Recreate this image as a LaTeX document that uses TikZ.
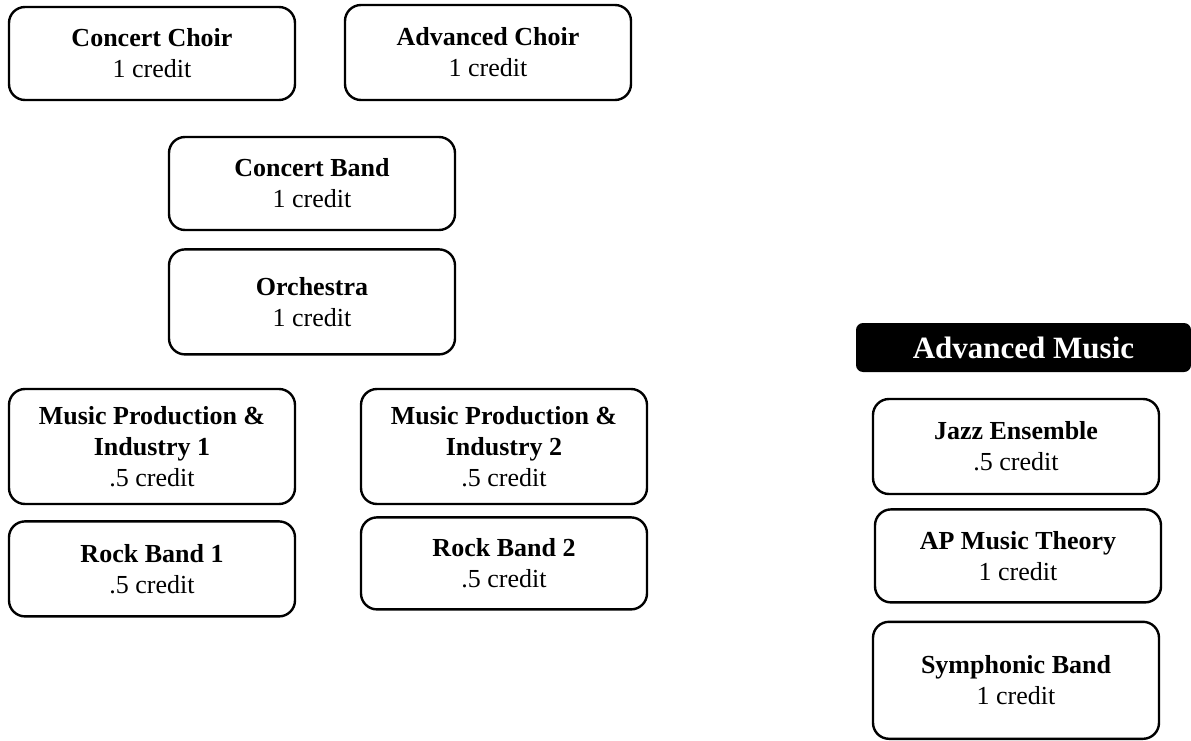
\documentclass[tikz,border=0pt]{standalone}
\usepackage{fontspec}
\setmainfont{Liberation Serif}
\usetikzlibrary{positioning}

\begin{document}
\begin{tikzpicture}[x=1pt,y=-1pt,
  course/.style={draw,line width=2.4pt,rounded corners=16pt,minimum width=286pt,minimum height=93pt,inner sep=0pt,align=center,font=\fontsize{26}{31}\selectfont},
  header/.style={fill=black,text=white,rounded corners=7pt,minimum width=335pt,minimum height=49pt,inner sep=0pt,font=\fontsize{31}{36}\selectfont\bfseries}
]
  \useasboundingbox (0,0) rectangle (1191,741);
  % choirs and bands
  \node[course] (cchoir) at (152,53.5) {\textbf{Concert Choir}\\1 credit};
  \node[course,minimum height=95pt] (achoir) at (488,52.5) {\textbf{Advanced Choir}\\1 credit};
  \node[course] (cband) at (312,183.5) {\textbf{Concert Band}\\1 credit};
  \node[course,minimum height=105pt,below=17pt of cband] (orch) {\textbf{Orchestra}\\1 credit};
  % production and rock
  \node[course,minimum height=115pt] (mpi1) at (152,446.5) {\textbf{Music Production \&}\\\textbf{Industry 1}\\.5 credit};
  \node[course,minimum height=115pt] (mpi2) at (504,446.5) {\textbf{Music Production \&}\\\textbf{Industry 2}\\.5 credit};
  \node[course,minimum height=95pt,below=15pt of mpi1] (rock1) {\textbf{Rock Band 1}\\.5 credit};
  \node[course,minimum height=92pt,below=11pt of mpi2] (rock2) {\textbf{Rock Band 2}\\.5 credit};
  % advanced music
  \node[header] (adv) at (1023.5,347.5) {Advanced Music};
  \node[course,minimum height=95pt] (jazz) at (1016,446.5) {\textbf{Jazz Ensemble}\\.5 credit};
  \node[course,below=13pt of jazz,xshift=2pt] (apmt) {\textbf{AP Music Theory}\\1 credit};
  \node[course,minimum height=117pt,below=17pt of apmt,xshift=-2pt] (symph) {\textbf{Symphonic Band}\\1 credit};
\end{tikzpicture}
\end{document}
